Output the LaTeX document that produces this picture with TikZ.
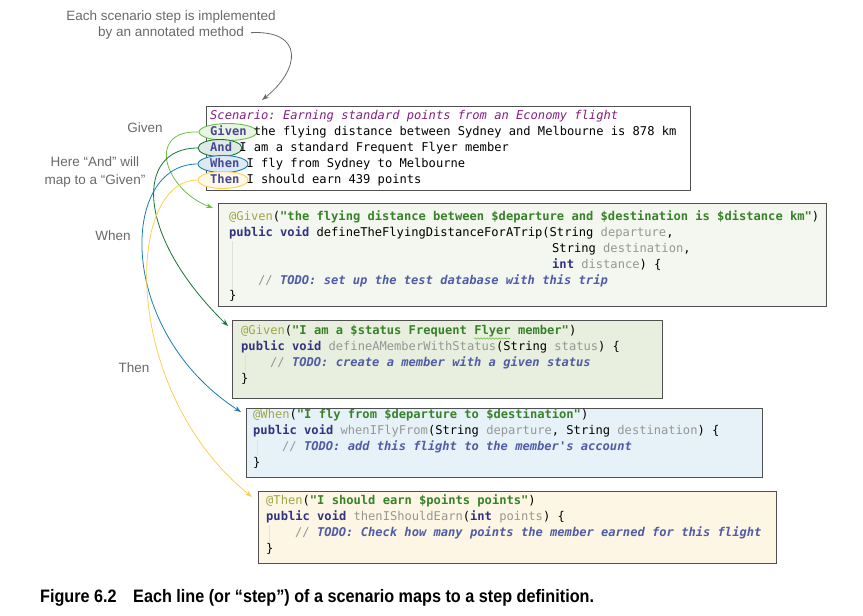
\documentclass[tikz,border=0pt]{standalone}
\usepackage{fontspec}
\setmainfont{Liberation Sans}
\setmonofont{DejaVu Sans Mono}
\newfontfamily\capfont[FakeStretch=0.9]{Liberation Sans}
\usetikzlibrary{shapes.geometric,arrows.meta,decorations.pathmorphing}
\definecolor{notegray}{RGB}{105,105,105}
\definecolor{boxline}{RGB}{80,80,80}
\definecolor{scenpurple}{RGB}{130,30,130}
\definecolor{stepkw}{RGB}{72,72,150}
\definecolor{kwblue}{RGB}{50,50,130}
\definecolor{annolive}{RGB}{160,165,70}
\definecolor{strgreen}{RGB}{55,130,40}
\definecolor{fadegray}{RGB}{150,150,150}
\definecolor{comblue}{RGB}{80,92,165}
\definecolor{givencol}{RGB}{110,190,70}
\definecolor{andcol}{RGB}{25,115,55}
\definecolor{whencol}{RGB}{25,125,175}
\definecolor{thencol}{RGB}{250,208,85}
\definecolor{boxA}{RGB}{244,246,240}
\definecolor{boxB}{RGB}{233,239,222}
\definecolor{boxC}{RGB}{231,242,248}
\definecolor{boxD}{RGB}{253,246,228}
\tikzset{
  notefont/.style={font=\fontsize{13.5}{18}\selectfont,text=notegray,inner sep=0pt},
  codetext/.style={font=\ttfamily\fontsize{12.1}{14}\selectfont,inner sep=0pt,
    text height=8.5pt,text depth=2.5pt,anchor=west},
  codebox/.style={draw=boxline,line width=1.2pt,anchor=north west,inner sep=0pt},
  kwring/.style={ellipse,draw=#1,fill=#1!15,line width=0.9pt,inner sep=0pt,minimum height=17pt},
  stepline/.style={draw=#1,line width=0.8pt,-{Stealth[length=7pt,width=5pt]}},
  guide/.style={draw=black!12,line width=0.6pt},
  capfont/.style={font=\capfont\bfseries\fontsize{18}{20}\selectfont,anchor=west,inner sep=0pt},
}
\newcommand{\skw}[1]{\textbf{\color{stepkw}#1}}
\newcommand{\kw}[1]{\textbf{\color{kwblue}#1}}
\newcommand{\anno}[1]{{\color{annolive}#1}}
\newcommand{\cstr}[1]{\textbf{\color{strgreen}#1}}
\newcommand{\fade}[1]{{\color{fadegray}#1}}
\newcommand{\ccom}[1]{{\color{fadegray}//} \textbf{\textit{\color{comblue}#1}}}
\newcommand{\codeln}[4]{\node[codetext] (#1) at (#2,#3) {#4};}

\begin{document}
\begin{tikzpicture}[x=1pt,y=-1pt]
        \useasboundingbox (0,0) rectangle (863,616);
        \node[notefont] (note1) at (171,17) {Each scenario step is implemented};
        \node[notefont] (note2) at (171,33) {by an annotated method};
        \node[codebox,minimum width=484pt,minimum height=84pt] (scen) at (206,106) {};
        \node[kwring=givencol,minimum width=58pt] (kgiven) at (228,132) {};
        \node[kwring=andcol,minimum width=44pt] (kand) at (220,148) {};
        \node[kwring=whencol,minimum width=50pt] (kwhen) at (223,164) {};
        \node[kwring=thencol,minimum width=50pt] (kthen) at (223,180) {};
        \codeln{s0}{210}{116}{\textit{\color{scenpurple}Scenario: Earning standard points from an Economy flight}}
        \codeln{s1}{210}{132}{\skw{Given} the flying distance between Sydney and Melbourne is 878 km}
        \codeln{s2}{210}{148}{\skw{And} I am a standard Frequent Flyer member}
        \codeln{s3}{210}{164}{\skw{When} I fly from Sydney to Melbourne}
        \codeln{s4}{210}{180}{\skw{Then} I should earn 439 points}
        \node[notefont] (lgiven) at (145,128) {Given};
        \node[notefont,align=center] (land) at (95,172) {Here “And” will\\map to a “Given”};
        \node[notefont] (lwhen) at (113,236) {When};
        \node[notefont] (lthen) at (134,368) {Then};
        \node[codebox,fill=boxA,minimum width=608pt,minimum height=103pt] (stepA) at (218,203) {};
        \draw[guide] (232,241) -- (232,290);
        \codeln{a1}{229}{217}{\anno{@Given}(\cstr{"the flying distance between \$departure and \$destination is \$distance km"})}
        \codeln{a2}{229}{233}{\kw{public void} defineTheFlyingDistanceForATrip(String \fade{departure},}
        \codeln{a3}{552}{249}{String \fade{destination},}
        \codeln{a4}{552}{265}{\kw{int} \fade{distance}) \{}
        \codeln{a5}{258}{281}{\ccom{TODO: set up the test database with this trip}}
        \codeln{a6}{229}{296}{\}}
        \node[codebox,fill=boxB,minimum width=430pt,minimum height=78pt] (stepB) at (232,320) {};
        \draw[guide] (245,355) -- (245,372);
        \codeln{b1}{241}{331}{\anno{@Given}(\cstr{"I am a \$status Frequent Flyer member"})}
        \draw[givencol,line width=0.6pt,decorate,decoration={snake,amplitude=0.7pt,segment length=3pt}]
          (474,338.5) -- (510,338.5);
        \codeln{b2}{241}{347}{\kw{public void} \fade{defineAMemberWithStatus}(String \fade{status}) \{}
        \codeln{b3}{270}{363}{\ccom{TODO: create a member with a given status}}
        \codeln{b4}{241}{379}{\}}
        \node[codebox,fill=boxC,minimum width=516pt,minimum height=69pt] (stepC) at (246,408) {};
        \draw[guide] (257,440) -- (257,456);
        \codeln{c1}{253}{415}{\anno{@When}(\cstr{"I fly from \$departure to \$destination"})}
        \codeln{c2}{253}{431}{\kw{public void} \fade{whenIFlyFrom}(String \fade{departure}, String \fade{destination}) \{}
        \codeln{c3}{282}{447}{\ccom{TODO: add this flight to the member's account}}
        \codeln{c4}{253}{463}{\}}
        \node[codebox,fill=boxD,minimum width=518pt,minimum height=72pt] (stepD) at (258,491) {};
        \draw[guide] (269,525) -- (269,542);
        \codeln{d1}{266}{501}{\anno{@Then}(\cstr{"I should earn \$points points"})}
        \codeln{d2}{266}{517}{\kw{public void} \fade{thenIShouldEarn}(\kw{int} \fade{points}) \{}
        \codeln{d3}{295}{533}{\ccom{TODO: Check how many points the member earned for this flight}}
        \codeln{d4}{266}{549}{\}}
        \draw[notegray,line width=0.8pt,shorten <=7pt,-{Stealth[length=7pt,width=5pt]}]
          (note2.east) .. controls (305,30) and (300,70) .. ([xshift=56pt,yshift=6pt]scen.north west);
        \draw[stepline=givencol] (kgiven.west) .. controls (145,130) and (165,190) .. ([xshift=-5pt,yshift=-5pt]stepA.north west);
        \draw[stepline=andcol] (kand.west) .. controls (135,148) and (135,235) .. ([xshift=-4pt,yshift=-6pt]stepB.north west);
        \draw[stepline=whencol] (kwhen.west) .. controls (120,164) and (115,330) .. ([xshift=-5pt,yshift=-4pt]stepC.north west);
        \draw[stepline=thencol] (kthen.west) .. controls (125,180) and (120,390) .. ([xshift=-6pt,yshift=-6pt]stepD.north west);
        \node[capfont] (figno) at (40,598) {Figure 6.2};
        \node[capfont] (figcap) at (133,598) {Each line (or “step”) of a scenario maps to a step definition.};
      \end{tikzpicture}
\end{document}
